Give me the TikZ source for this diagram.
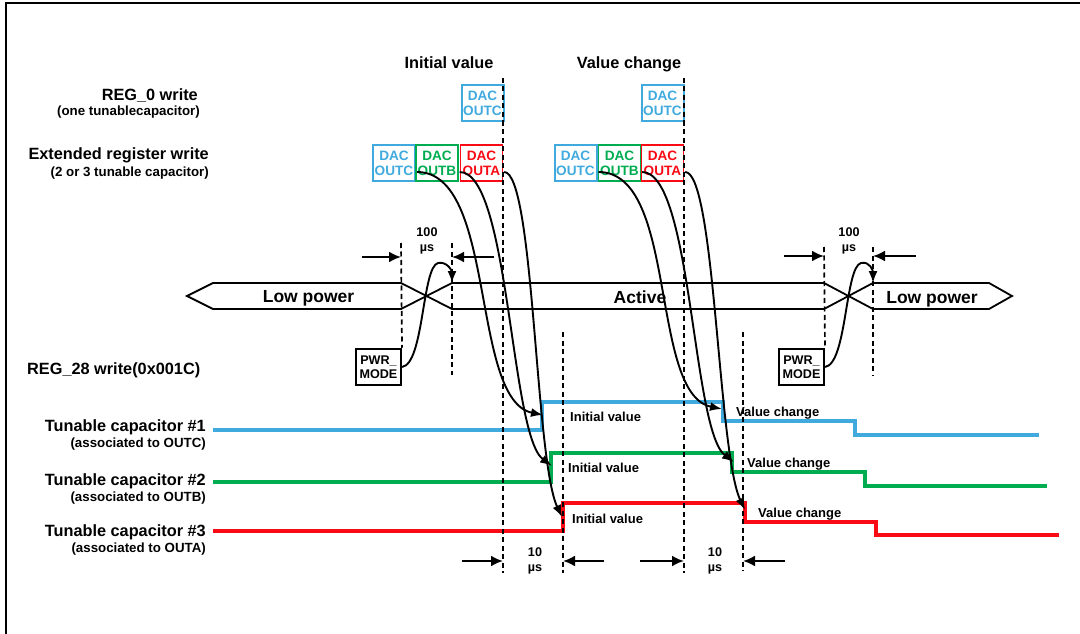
\documentclass[tikz,border=0pt]{standalone}
\usepackage{fontspec}
\setmainfont{Liberation Sans}
\usetikzlibrary{arrows.meta,calc}
\definecolor{capblue}{RGB}{64,170,222}
\definecolor{capgreen}{RGB}{0,172,80}
\definecolor{capred}{RGB}{250,10,20}
\newcommand{\dac}[1]{DAC\\OUT#1}

\tikzset{
  lbl/.style={font=\fontsize{16.3}{19}\selectfont\bfseries, inner sep=0pt},
  sublbl/.style={font=\fontsize{13.3}{15}\selectfont\bfseries, inner sep=0pt},
  vallbl/.style={font=\fontsize{13}{15}\selectfont\bfseries, inner sep=0pt},
  buslbl/.style={font=\fontsize{17.5}{20}\selectfont\bfseries, inner sep=0pt},
  timelbl/.style={font=\fontsize{12.6}{14.5}\selectfont\bfseries, inner sep=0pt, align=center},
  dacbox/.style={draw=#1, text=#1, line width=1.3pt, minimum width=42pt, minimum height=36pt, inner sep=0pt, align=center, font=\fontsize{13.6}{15.3}\selectfont\bfseries},
  pwrbox/.style={draw, line width=2pt, minimum width=45pt, minimum height=36.5pt, inner sep=0pt, align=center, font=\fontsize{12.6}{14.5}\selectfont\bfseries},
  vline/.style={line width=1.7pt, dash pattern=on 5pt off 3.5pt},
  wire/.style={line width=1.9pt, -{Latex[length=12pt,width=9pt]}},
  dimarrow/.style={line width=2.2pt, -{Latex[length=12pt,width=11pt]}},
  sig/.style={line width=3.4pt},
}

\begin{document}
\begin{tikzpicture}[x=1pt,y=-1pt]
      \useasboundingbox (0,0) rectangle (1080,634);
      %frame
      \draw[line width=1.7pt] (6,634) |- (1080,3);
      %titles
      \node[lbl, anchor=base] (ttlinit) at (449,69) {Initial value};
      \node[lbl, anchor=base] (ttlchg) at (629,69) {Value change};
      %left labels
      \node[lbl, anchor=base east] (reg0) at (198,101) {REG\_0 write};
      \node[sublbl, anchor=base east] (reg0sub) at (200,116) {(one tunablecapacitor)};
      \node[lbl, anchor=base east] (ext) at (209,159) {Extended register write};
      \node[sublbl, anchor=base east] (extsub) at (209,176) {(2 or 3 tunable capacitor)};
      \node[lbl, anchor=base west] (reg28) at (27,374) {REG\_28 write(0x001C)};
      \node[lbl, anchor=base east] (cap1) at (206,431) {Tunable capacitor \#1};
      \node[sublbl, anchor=base east] (cap1sub) at (206,447) {(associated to OUTC)};
      \node[lbl, anchor=base east] (cap2) at (206,485) {Tunable capacitor \#2};
      \node[sublbl, anchor=base east] (cap2sub) at (206,501) {(associated to OUTB)};
      \node[lbl, anchor=base east] (cap3) at (206,536) {Tunable capacitor \#3};
      \node[sublbl, anchor=base east] (cap3sub) at (206,552) {(associated to OUTA)};
      %register boxes
      \node[dacbox=capblue, line width=2pt] (reg0dac1) at (482.5,103) {\dac{C}};
      \node[dacbox=capblue, line width=2pt] (dacC1) at (394,163) {\dac{C}};
      \node[dacbox=capgreen] (dacB1) at (437,163) {\dac{B}};
      \node[dacbox=capred] (dacA1) at (481.5,163) {\dac{A}};
      \node[dacbox=capblue, line width=2pt] (reg0dac2) at (662.5,103) {\dac{C}};
      \node[dacbox=capblue, line width=2pt] (dacC2) at (575.5,163) {\dac{C}};
      \node[dacbox=capgreen] (dacB2) at (619.5,163) {\dac{B}};
      \node[dacbox=capred] (dacA2) at (662.5,163) {\dac{A}};
      \node[pwrbox] (pwr1) at (378.5,367) {PWR\_\\MODE};
      \node[pwrbox] (pwr2) at (801.5,367) {PWR\_\\MODE};
      %power mode bus
      \draw[line width=1.8pt] (187,296) -- (213,283) -- (401,283) -- (452,309) -- (824,309) -- (873,283)
        -- (989,283) -- (1012,296) -- (989,309) -- (873,309) -- (824,283) -- (452,283) -- (401,309) -- (213,309) -- cycle;
      \node[buslbl, anchor=base] (lowpw1) at (308.5,302.5) {Low power};
      \node[buslbl, anchor=base] (active) at (640,303) {Active};
      \node[buslbl, anchor=base] (lowpw2) at (932,303) {Low power};
      %signals
      \draw[capblue, sig] (213,430) -- (542,430) -- (542,402) -- (723,402) -- (723,421) -- (855,421) -- (855,435) -- (1039,435);
      \draw[capgreen, sig] (213,482) -- (551,482) -- (551,453) -- (732,453) -- (732,472) -- (865,472) -- (865,486) -- (1047,486);
      \draw[capred, sig] (213,531) -- (563,531) -- (563,503) -- (745,503) -- (745,522) -- (876,522) -- (876,535) -- (1059,535);
      \node[vallbl, anchor=base west] (iv1) at (570,421) {Initial value};
      \node[vallbl, anchor=base west] (iv2) at (568,472) {Initial value};
      \node[vallbl, anchor=base west] (iv3) at (572,523) {Initial value};
      \node[vallbl, anchor=base west] (vc1) at (736,416) {Value change};
      \node[vallbl, anchor=base west] (vc2) at (747,467) {Value change};
      \node[vallbl, anchor=base west] (vc3) at (758,517) {Value change};
      %dashed markers
      \coordinate (dInitT) at (503,78);  \coordinate (dInitB) at (503,573);
      \coordinate (dChgT) at (684,78);   \coordinate (dChgB) at (684,573);
      \coordinate (dIvT) at (563,332);   \coordinate (dIvB) at (563,573);
      \coordinate (dVcT) at (743,332);   \coordinate (dVcB) at (743,571);
      \coordinate (dPw1T) at (401,243);
      \coordinate (dAct1T) at (452,243); \coordinate (dAct1B) at (452,375);
      \coordinate (dPw2T) at (824,247);
      \coordinate (dAct2T) at (873,247); \coordinate (dAct2B) at (873,375);
      \draw[vline] (dInitT) -- (dInitB);
      \draw[vline] (dChgT) -- (dChgB);
      \draw[vline] (dIvT) -- (dIvB);
      \draw[vline] (dVcT) -- (dVcB);
      \draw[vline] (dPw1T) -- (pwr1.north east);
      \draw[vline] (dAct1T) -- (dAct1B);
      \draw[vline] (dPw2T) -- (pwr2.north east);
      \draw[vline] (dAct2T) -- (dAct2B);
      %timing labels
      \node[timelbl] (t100a) at (427,241) {100\\µs};
      \node[timelbl] (t100b) at (849,241) {100\\µs};
      \node[timelbl] (t10a) at (535,561) {10\\µs};
      \node[timelbl] (t10b) at (715,561) {10\\µs};
      \coordinate (a100aL) at (362,257); \coordinate (a100aR) at (494,257);
      \coordinate (a100bL) at (784,256); \coordinate (a100bR) at (916,256);
      \coordinate (a10aL) at (462,561);  \coordinate (a10aR) at (604,561);
      \coordinate (a10bL) at (640,561);  \coordinate (a10bR) at (785,561);
      \draw[dimarrow] (a100aL) -- (a100aL -| dPw1T);
      \draw[dimarrow] (a100aR) -- (a100aR -| dAct1T);
      \draw[dimarrow] (a100bL) -- (a100bL -| dPw2T);
      \draw[dimarrow] (a100bR) -- (a100bR -| dAct2T);
      \draw[dimarrow] (a10aL) -- (a10aL -| dInitT);
      \draw[dimarrow] (a10aR) -- (a10aR -| dIvT);
      \draw[dimarrow] (a10bL) -- (a10bL -| dChgT);
      \draw[dimarrow] (a10bR) -- (a10bR -| dVcT);
      %edges
      \coordinate (tC1) at (543,415); \coordinate (tB1) at (552,466); \coordinate (tA1) at (562,517);
      \coordinate (tC2) at (722,409); \coordinate (tB2) at (734,462); \coordinate (tA2) at (745,510);
      \draw[wire] ($(dacC1.east)+(1,9)$) .. controls +(80,0) and +(-73,-15) .. (tC1);
      \draw[wire] ($(dacB1.east)+(1,9)$) .. controls +(50,0) and +(-42,-31) .. (tB1);
      \draw[wire] ($(dacA1.east)+(1,9)$) .. controls +(30,0) and +(-27,-57) .. (tA1);
      \draw[wire] ($(dacC2.east)+(1,9)$) .. controls +(80,0) and +(-73,-15) .. (tC2);
      \draw[wire] ($(dacB2.east)+(1,9)$) .. controls +(50,0) and +(-42,-31) .. (tB2);
      \draw[wire] ($(dacA2.east)+(1,9)$) .. controls +(30,0) and +(-27,-57) .. (tA2);
      \coordinate (pwTop1) at (438,263); \coordinate (pwTip1) at (452,283);
      \coordinate (pwTop2) at (861,263); \coordinate (pwTip2) at (873,283);
      \draw[wire] (pwr1.east) .. controls +(22,-3) and +(-16,4) .. (pwTop1) .. controls +(9,-2) and +(0,-12) .. (pwTip1);
      \draw[wire] (pwr2.east) .. controls +(22,-3) and +(-16,4) .. (pwTop2) .. controls +(9,-2) and +(0,-12) .. (pwTip2);
\end{tikzpicture}
\end{document}
